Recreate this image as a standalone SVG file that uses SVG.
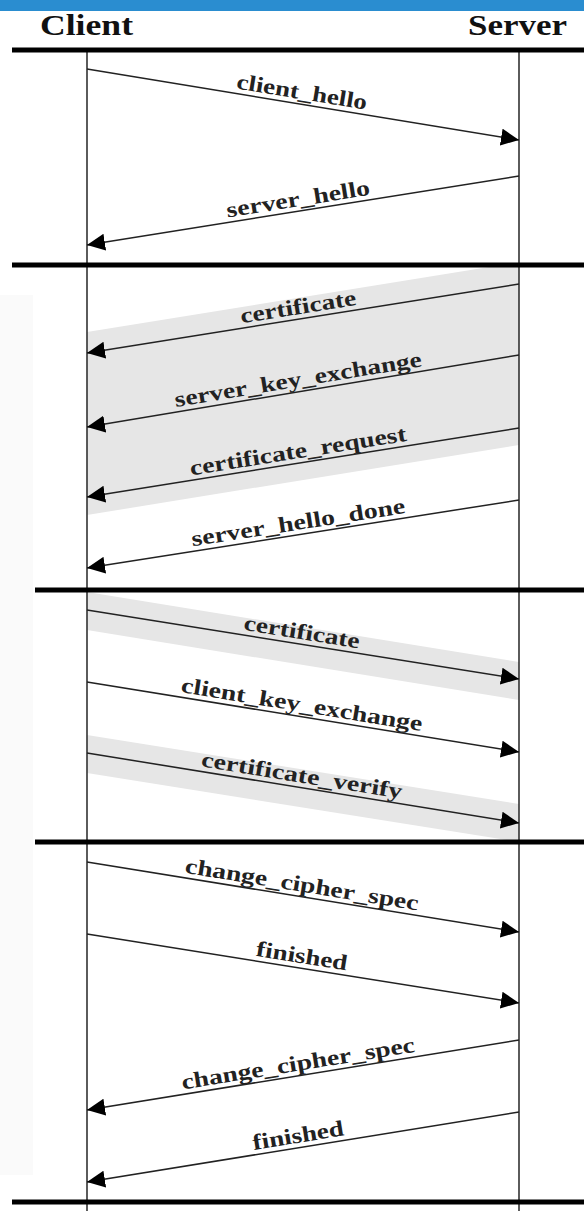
<svg xmlns="http://www.w3.org/2000/svg" width="584" height="1211" viewBox="0 0 584 1211">
  <style>
    .hdr { font-family: "Liberation Serif", "Times New Roman", serif; font-weight: bold; font-size: 30px; fill: #111; }
    .lbl { font-family: "Liberation Serif", "Times New Roman", serif; font-weight: bold; font-size: 22px; fill: #222; text-anchor: middle; }
    .life { stroke: #333; stroke-width: 1.6; }
    .sep { stroke: #000; stroke-width: 5; }
    .msg { stroke: #222; stroke-width: 1.5; fill: none; marker-end: url(#arrow); }
    .band { fill: #e6e6e6; }
  </style>
  <defs>
    <marker id="arrow" viewBox="0 0 18 17" refX="18" refY="8.5" markerWidth="18" markerHeight="17" markerUnits="userSpaceOnUse" orient="auto">
      <path d="M0,0 L18,8.5 L0,17 Z" fill="#000"/>
    </marker>
  </defs>

  <rect x="0" y="0" width="584" height="1211" fill="#fff"/>
  <!-- title strip -->
  <rect x="0" y="0" width="584" height="11" fill="#2a8dd0"/>
  <!-- faint margin strip -->
  <rect x="0" y="295" width="33" height="880" fill="#fafafa"/>

  <!-- optional-message shading -->
  <g id="bands">
    <polygon class="band" points="87,332 489,267 519,267 519,445 87,515"/>
    <polygon class="band" points="87,592 519,662 519,700 87,630"/>
    <polygon class="band" points="87,735 519,804 519,842 87,773"/>
  </g>

  <!-- participants -->
  <g id="client">
    <text class="hdr" x="40" y="35" textLength="93" lengthAdjust="spacingAndGlyphs">Client</text>
    <line class="life" x1="87" y1="50" x2="87" y2="1211"/>
  </g>
  <g id="server">
    <text class="hdr" x="468" y="35" textLength="99" lengthAdjust="spacingAndGlyphs">Server</text>
    <line class="life" x1="519" y1="50" x2="519" y2="1211"/>
  </g>

  <!-- phase separators -->
  <g id="separators">
    <line class="sep" x1="12" y1="50" x2="584" y2="50"/>
    <line class="sep" x1="12" y1="265" x2="584" y2="265"/>
    <line class="sep" x1="35" y1="590" x2="584" y2="590"/>
    <line class="sep" x1="35" y1="842" x2="584" y2="842"/>
    <line class="sep" x1="12" y1="1202" x2="584" y2="1202"/>
  </g>

  <!-- handshake messages -->
  <g id="connectors">
    <g id="m1">
      <line class="msg" x1="87" y1="69" x2="519" y2="140"/>
      <text class="lbl" x="300" y="99" transform="rotate(9.3 300 104)" textLength="132" lengthAdjust="spacingAndGlyphs">client_hello</text>
    </g>
    <g id="m2">
      <line class="msg" x1="519" y1="176" x2="87" y2="245"/>
      <text class="lbl" x="300" y="206" transform="rotate(-9.1 300 211)" textLength="145" lengthAdjust="spacingAndGlyphs">server_hello</text>
    </g>
    <g id="m3">
      <line class="msg" x1="519" y1="284" x2="87" y2="353"/>
      <text class="lbl" x="300" y="314" transform="rotate(-9.1 300 319)" textLength="117" lengthAdjust="spacingAndGlyphs">certificate</text>
    </g>
    <g id="m4">
      <line class="msg" x1="519" y1="355" x2="87" y2="427"/>
      <text class="lbl" x="300" y="386.5" transform="rotate(-9.4 300 391.5)" textLength="250" lengthAdjust="spacingAndGlyphs">server_key_exchange</text>
    </g>
    <g id="m5">
      <line class="msg" x1="519" y1="428" x2="87" y2="497"/>
      <text class="lbl" x="300" y="458" transform="rotate(-9.1 300 463)" textLength="219" lengthAdjust="spacingAndGlyphs">certificate_request</text>
    </g>
    <g id="m6">
      <line class="msg" x1="519" y1="500" x2="87" y2="568"/>
      <text class="lbl" x="300" y="529.5" transform="rotate(-8.9 300 534.5)" textLength="216" lengthAdjust="spacingAndGlyphs">server_hello_done</text>
    </g>
    <g id="m7">
      <line class="msg" x1="87" y1="610" x2="519" y2="679"/>
      <text class="lbl" x="300" y="639" transform="rotate(9.1 300 644)" textLength="117" lengthAdjust="spacingAndGlyphs">certificate</text>
    </g>
    <g id="m8">
      <line class="msg" x1="87" y1="682" x2="519" y2="752"/>
      <text class="lbl" x="300" y="711.5" transform="rotate(9.2 300 716.5)" textLength="244" lengthAdjust="spacingAndGlyphs">client_key_exchange</text>
    </g>
    <g id="m9">
      <line class="msg" x1="87" y1="753" x2="519" y2="823"/>
      <text class="lbl" x="300" y="782.5" transform="rotate(9.2 300 787.5)" textLength="203" lengthAdjust="spacingAndGlyphs">certificate_verify</text>
    </g>
    <g id="m10">
      <line class="msg" x1="87" y1="862" x2="519" y2="932"/>
      <text class="lbl" x="300" y="891.5" transform="rotate(9.2 300 896.5)" textLength="236" lengthAdjust="spacingAndGlyphs">change_cipher_spec</text>
    </g>
    <g id="m11">
      <line class="msg" x1="87" y1="934" x2="519" y2="1003"/>
      <text class="lbl" x="300" y="963" transform="rotate(9.1 300 968)" textLength="92" lengthAdjust="spacingAndGlyphs">finished</text>
    </g>
    <g id="m12">
      <line class="msg" x1="519" y1="1040" x2="87" y2="1110"/>
      <text class="lbl" x="300" y="1070.5" transform="rotate(-9.2 300 1075.5)" textLength="236" lengthAdjust="spacingAndGlyphs">change_cipher_spec</text>
    </g>
    <g id="m13">
      <line class="msg" x1="519" y1="1112" x2="87" y2="1182"/>
      <text class="lbl" x="300" y="1142.5" transform="rotate(-9.2 300 1147.5)" textLength="92" lengthAdjust="spacingAndGlyphs">finished</text>
    </g>
  </g>
</svg>
